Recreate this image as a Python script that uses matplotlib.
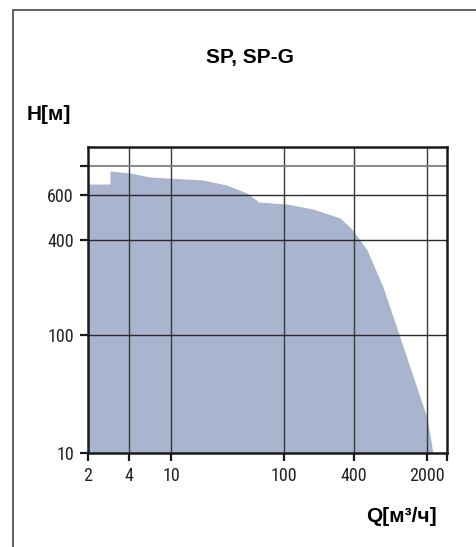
import numpy as np
import matplotlib
matplotlib.use("Agg")
import matplotlib.pyplot as plt
from matplotlib.patches import Rectangle

# ========================
# DATOS
# ========================
q_values = [2, 2.9, 2.9, 4.1, 6.3, 19, 31, 47, 60, 106, 177, 303, 390, 533, 759, 1100, 1710, 2000, 2280]
h_values = [728, 728, 916, 884, 824, 782, 716, 621, 563, 553, 529, 488, 438, 346, 201, 96, 30, 20, 10]

x_ticks = [2, 4, 10, 100, 400, 2000, 3100]
x_labels = ["2", "4", "10", "100", "400", "2000", ""]
y_ticks = [10, 100, 400, 600, 1000]
y_labels = ["10", "100", "400", "600", ""]

title = "SP, SP-G"
ylabel = "H[м]"
xlabel = "Q[м³/ч]"

# escala no uniforme del catálogo (log por tramos)
x_knots = [2, 4, 10, 100, 400, 2000, 3100]
x_knot_pos = [0, 41, 83, 196, 266, 339, 359]
y_knots = [10, 100, 400, 600, 1000, 1400]
y_knot_pos = [0, 118, 213, 258, 287, 306]


def make_scale(vals, pos):
    lv = np.log10(np.asarray(vals, float))
    ps = np.asarray(pos, float)
    s_lo = (ps[1] - ps[0]) / (lv[1] - lv[0])
    s_hi = (ps[-1] - ps[-2]) / (lv[-1] - lv[-2])

    def fwd(v):
        x = np.log10(np.clip(np.asarray(v, float), 1e-12, None))
        out = np.interp(x, lv, ps)
        out = np.where(x < lv[0], ps[0] + (x - lv[0]) * s_lo, out)
        out = np.where(x > lv[-1], ps[-1] + (x - lv[-1]) * s_hi, out)
        return out

    def inv(p):
        p = np.asarray(p, float)
        out = np.interp(p, ps, lv)
        out = np.where(p < ps[0], lv[0] + (p - ps[0]) / s_lo, out)
        out = np.where(p > ps[-1], lv[-1] + (p - ps[-1]) / s_hi, out)
        return 10 ** out

    return fwd, inv


W, H = 477, 547
fig = plt.figure(figsize=(W / 100, H / 100), dpi=100)

# marco exterior
fig.patches.append(Rectangle((13 / W, -0.1), 1.2, 1 - 10 / H + 0.1, transform=fig.transFigure,
                             fill=False, edgecolor="#555555", linewidth=1.3))

ax = fig.add_axes([88 / W, 1 - 453 / H, 359 / W, 306 / H])
ax.set_xscale("function", functions=make_scale(x_knots, x_knot_pos))
ax.set_yscale("function", functions=make_scale(y_knots, y_knot_pos))
ax.set_xlim(2, 3100)
ax.set_ylim(10, 1400)

ax.fill_between(q_values, 10, h_values, color="#a9b4cf", linewidth=0, zorder=1)

ax.set_xticks(x_ticks)
ax.set_xticklabels(x_labels)
ax.set_yticks(y_ticks)
ax.set_yticklabels(y_labels)
ax.minorticks_off()

for xv in x_ticks[1:-1]:
    ax.axvline(xv, color="#3a3a3a", linewidth=1.0, zorder=2)
for yv in y_ticks[1:-1]:
    ax.axhline(yv, color="#2a2a2a", linewidth=1.0, zorder=2)
ax.axhline(1000, color="#808080", linewidth=1.3, zorder=2)

for s in ax.spines.values():
    s.set_linewidth(1.8)
    s.set_color("#1a1a1a")
    s.set_zorder(3)

ax.tick_params(direction="out", length=5.8, width=1.6, pad=4.3, color="#1a1a1a",
               labelsize=13, labelcolor="#222222")
for lab in ax.get_xticklabels() + ax.get_yticklabels():
    lab.set_family(["Roboto Condensed", "DejaVu Sans"])

fig.text(250 / W, 1 - 57 / H, title, ha="center", va="center", fontsize=15,
         fontweight="bold", family=["Liberation Sans", "DejaVu Sans"])
fig.text(27 / W, 1 - 115 / H, ylabel, ha="left", va="center", fontsize=15,
         fontweight="bold", family=["Liberation Sans", "DejaVu Sans"])
fig.text(437 / W, 1 - 517 / H, xlabel, ha="right", va="center", fontsize=15,
         fontweight="bold", family=["Liberation Sans", "DejaVu Sans"])

fig.savefig("out.png", dpi=100)
